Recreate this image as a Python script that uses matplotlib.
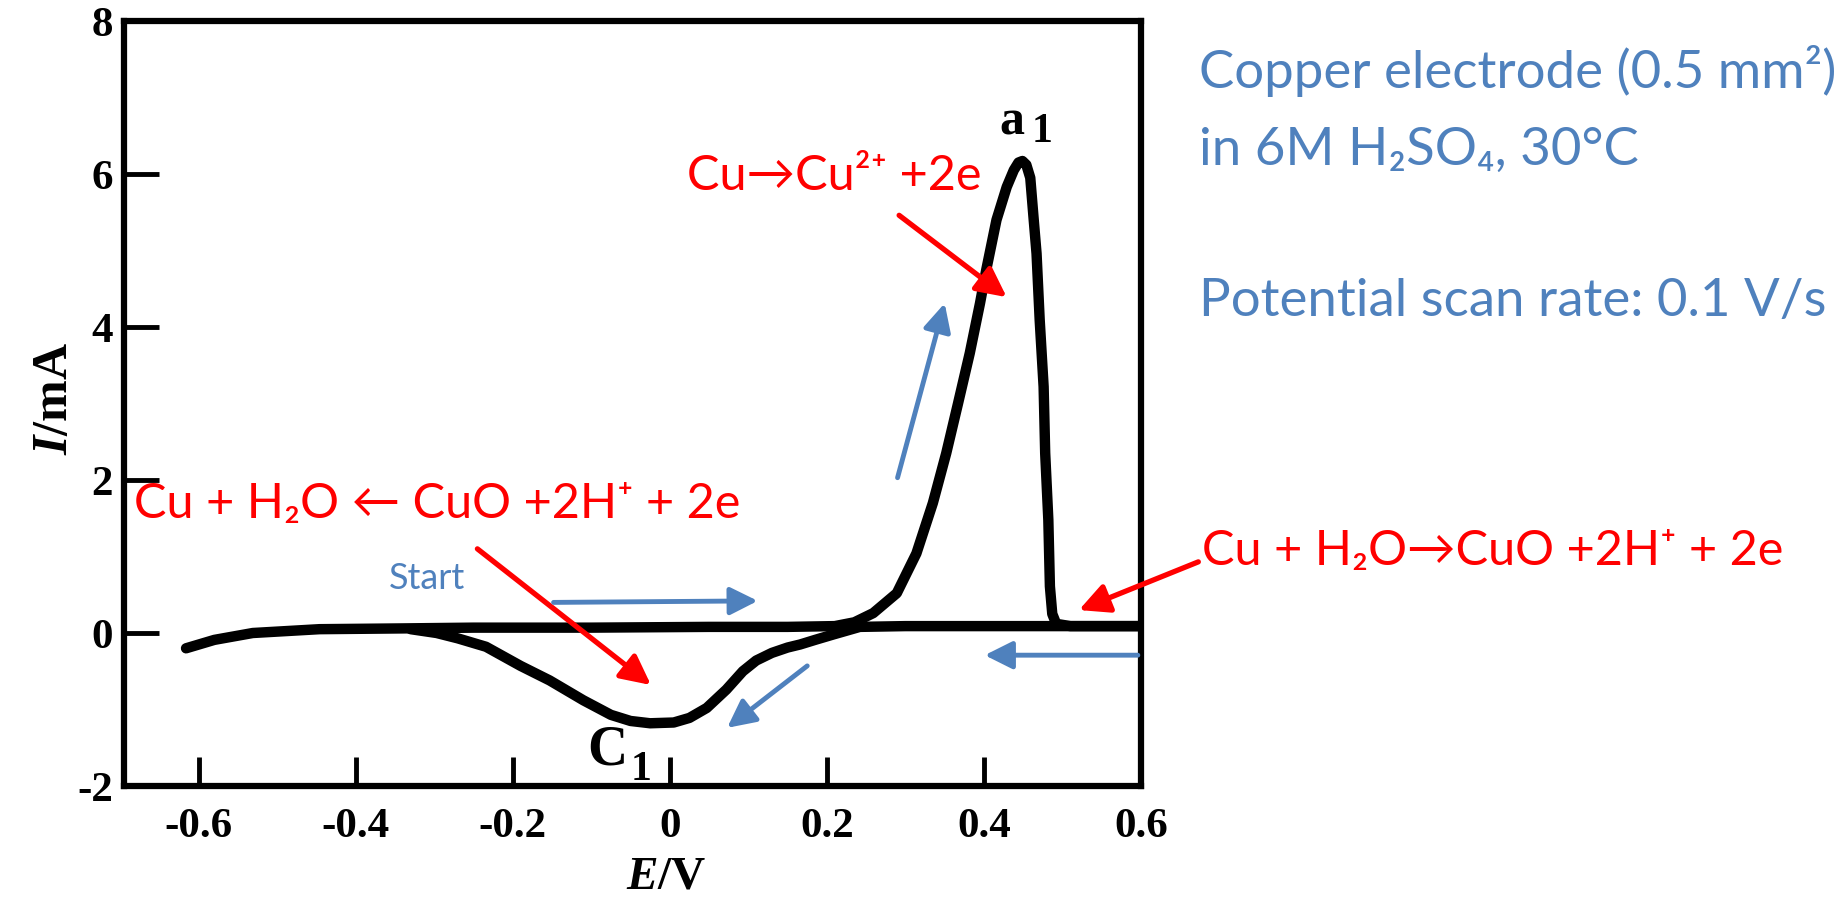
import matplotlib
matplotlib.use("Agg")
import matplotlib.pyplot as plt

# forward sweep: -0.62 V -> 0.6 V, anodic peak a1
e_fwd = [-0.616, -0.58, -0.531, -0.446, -0.34, -0.25, -0.1, 0.05, 0.15, 0.21, 0.235, 0.259,
         0.289, 0.314, 0.335, 0.352, 0.367, 0.382, 0.395, 0.403, 0.416, 0.429, 0.438, 0.444,
         0.449, 0.454, 0.459, 0.463, 0.467, 0.471, 0.476, 0.478, 0.482, 0.484, 0.487, 0.492,
         0.51, 0.6]
i_fwd = [-0.20, -0.09, 0.0, 0.05, 0.06, 0.07, 0.07, 0.08, 0.08, 0.09, 0.14, 0.26,
         0.52, 1.04, 1.70, 2.35, 3.0, 3.66, 4.31, 4.75, 5.40, 5.83, 6.05, 6.15,
         6.17, 6.12, 5.95, 5.45, 4.96, 4.09, 3.22, 2.35, 1.48, 0.61, 0.25, 0.12,
         0.09, 0.09]

# reverse sweep: 0.6 V -> back, cathodic peak c1
e_rev = [0.6, 0.4, 0.3, 0.242, 0.208, 0.185, 0.166, 0.15, 0.13, 0.11, 0.093, 0.072, 0.047,
         0.025, 0.005, -0.025, -0.05, -0.075, -0.110, -0.153, -0.19, -0.234, -0.27, -0.297,
         -0.33]
i_rev = [0.09, 0.09, 0.09, 0.08, -0.02, -0.09, -0.15, -0.19, -0.26, -0.36, -0.50, -0.74, -0.98,
         -1.11, -1.17, -1.18, -1.15, -1.07, -0.88, -0.62, -0.43, -0.18, -0.07, 0.0,
         0.05]

x_ticks = [-0.6, -0.4, -0.2, 0, 0.2, 0.4, 0.6]
x_labels = ["-0.6", "-0.4", "-0.2", "0", "0.2", "0.4", "0.6"]
y_ticks = [-2, 0, 2, 4, 6, 8]
y_labels = ["-2", "0", "2", "4", "6", "8"]

# (tail, head) in data units
red_arrows = [((0.292, 5.46), (0.429, 4.39)),
              ((-0.245, 1.10), (-0.024, -0.68)),
              ((0.673, 0.93), (0.521, 0.30))]
blue_arrows = [((-0.148, 0.40), (0.112, 0.42)),
               ((0.290, 2.03), (0.350, 4.31)),
               ((0.596, -0.29), (0.401, -0.29)),
               ((0.175, -0.43), (0.073, -1.24))]

red_notes = ["Cu\u2192Cu\u00b2\u207a +2e",
             "Cu + H\u2082O \u2190 CuO +2H\u207a + 2e",
             "Cu + H\u2082O\u2192CuO +2H\u207a + 2e"]
blue_notes = ["Copper electrode (0.5 mm\u00b2)",
              "in 6M H\u2082SO\u2084, 30\u00b0C",
              "Potential scan rate: 0.1 V/s"]

plt.rcParams["mathtext.fontset"] = "custom"
plt.rcParams["mathtext.rm"] = "Liberation Serif:bold"
plt.rcParams["mathtext.it"] = "Liberation Serif:bold:italic"
plt.rcParams["axes.unicode_minus"] = False

W, H = 1847, 905
fig = plt.figure(figsize=(W / 100, H / 100), dpi=100)
ax = fig.add_axes([124 / W, 1 - 786 / H, (1141 - 124) / W, (786 - 21) / H])

ax.plot(e_fwd, i_fwd, color="black", lw=7.5, solid_joinstyle="round", solid_capstyle="round")
ax.plot(e_rev, i_rev, color="black", lw=7.5, solid_joinstyle="round", solid_capstyle="round")

ax.set_xlim(-0.695, 0.6)
ax.set_ylim(-2, 8)
serif = dict(family="Liberation Serif", weight="bold", size=31)
ax.set_xticks(x_ticks)
ax.set_xticklabels(x_labels, fontdict=serif)
ax.set_yticks(y_ticks)
ax.set_yticklabels(y_labels, fontdict=serif)
ax.tick_params(axis="x", direction="in", length=21, width=3.5, pad=16)
ax.tick_params(axis="y", direction="in", length=25, width=3.5, pad=8)
for s in ax.spines.values():
    s.set_linewidth(4.5)

ax.set_xlabel(r"$E$/V", family="Liberation Serif", weight="bold", size=34)
ax.xaxis.set_label_coords((666 - 124) / 1017, -0.12)
ax.xaxis.label.set_va("center")
ax.set_ylabel(r"$I$/mA", family="Liberation Serif", weight="bold", size=36)
ax.yaxis.set_label_coords(-0.068, 0.507)
ax.yaxis.label.set_va("center")

# peak labels
lbl = dict(family="Liberation Serif", weight="bold", ha="center", va="baseline")
ax.text(0.436, 6.52, "a", size=36, **lbl)
ax.text(0.474, 6.42, "1", size=30, **lbl)
ax.text(-0.079, -1.72, "C", size=40, **lbl)
ax.text(-0.036, -1.92, "1", size=30, **lbl)

for tail, head in red_arrows:
    ax.annotate("", xy=head, xytext=tail, annotation_clip=False,
                arrowprops=dict(arrowstyle="-|>,head_length=0.6,head_width=0.3", color="#ff0000",
                                lw=3.8, mutation_scale=30, shrinkA=0, shrinkB=0))
for tail, head in blue_arrows:
    ax.annotate("", xy=head, xytext=tail, annotation_clip=False,
                arrowprops=dict(arrowstyle="-|>,head_length=0.6,head_width=0.3", color="#4f81bd",
                                lw=3.5, mutation_scale=28, shrinkA=0, shrinkB=0))

sans = ["Lato", "Noto Sans", "DejaVu Sans"]
red_pos = [(687, 190), (134, 518), (1202, 565)]
for txt, (px, py) in zip(red_notes, red_pos):
    fig.text(px / W, 1 - py / H, txt, color="#ff0000", family=sans, size=35, va="baseline")

blue_pos = [(1199, 88), (1199, 165), (1199, 316)]
for txt, (px, py) in zip(blue_notes, blue_pos):
    fig.text(px / W, 1 - py / H, txt, color="#4f81bd", family=sans, size=38, va="baseline")
fig.text(389 / W, 1 - 589 / H, "Start", color="#4f81bd", family=sans, size=26, va="baseline")

fig.savefig("out.png", dpi=100)
